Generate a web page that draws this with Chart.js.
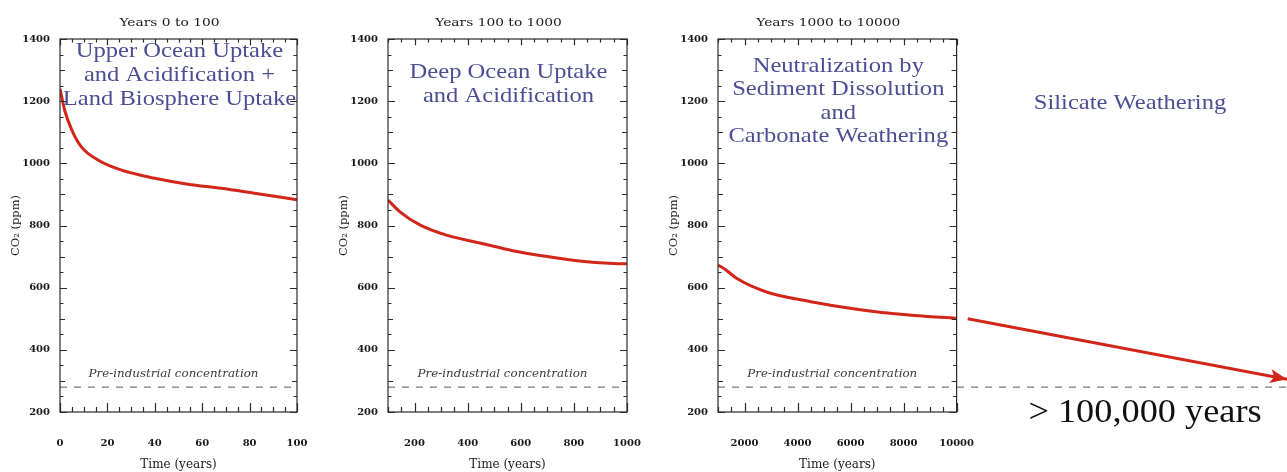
<!DOCTYPE html>
<html>
<head>
<meta charset="utf-8">
<script src="https://cdn.jsdelivr.net/npm/chart.js@4.4.0/dist/chart.umd.min.js"></script>
<style>
  html, body { margin: 0; padding: 0; background: #fff; }
  #wrap { position: relative; width: 1287px; height: 472px; overflow: hidden; }
  .panel { position: absolute; top: 0; height: 472px; }
</style>
</head>
<body>
<div id="wrap">
  <div class="panel" style="left:957px;width:330px"><canvas id="c4"></canvas></div>
  <div class="panel" style="left:0px;width:317px"><canvas id="c1"></canvas></div>
  <div class="panel" style="left:328px;width:319px"><canvas id="c2"></canvas></div>
  <div class="panel" style="left:658px;width:319px"><canvas id="c3"></canvas></div>
</div>
<script>
// values (ppm)
const years1 = [0, 2, 5, 9, 16, 26, 40, 54, 68, 82, 100];
const co2_1 = [1240, 1170, 1107, 1053, 1011, 978, 952, 933, 920, 904, 883];
const years2 = [100, 145, 220, 320, 450, 570, 700, 820, 950, 1000];
const co2_2 = [882, 844, 802, 769, 743, 719, 700, 686, 678, 677];
const years3 = [1000, 1300, 1700, 2800, 4500, 6300, 8200, 10000];
const co2_3 = [673, 657, 630, 587, 555, 530, 512, 501];
const arrowYears = [10000, 100000];
const arrowCO2 = [500, 305];
const preIndustrial = 280;

const yTicks = [200, 400, 600, 800, 1000, 1200, 1400];
const xTicks1 = [0, 20, 40, 60, 80, 100];
const xTicks2 = [200, 400, 600, 800, 1000];
const xTicks3 = [2000, 4000, 6000, 8000, 10000];
const titles = ['Years 0 to 100', 'Years 100 to 1000', 'Years 1000 to 10000'];

const RED = '#d3261b';
const BLUE = '#4b4e93';
const SERIF = 'DejaVu Serif';

// text squeezed/stretched horizontally like the scanned figure
function wideText(ctx, text, x, y, sx) {
  ctx.save();
  ctx.translate(x, y);
  ctx.scale(sx, 1);
  ctx.fillText(text, 0, 0);
  ctx.restore();
}

// box around the plot with inward minor/major ticks, plus the texts
const framePlugin = {
  id: 'frame',
  afterDraw(chart, args, o) {
    if (!o.xStep) return;
    const { ctx, chartArea: a, scales: { x, y } } = chart;
    ctx.save();
    ctx.strokeStyle = '#2b2b2b';
    ctx.lineWidth = 1.2;
    ctx.strokeRect(a.left, a.top, a.right - a.left, a.bottom - a.top);
    ctx.beginPath();
    for (let v = Math.ceil(x.min / o.xStep) * o.xStep; v <= x.max; v += o.xStep) {
      const px = Math.round(x.getPixelForValue(v)) + 0.5;
      const len = v % o.xMajor === 0 ? 9 : 5;
      ctx.moveTo(px, a.bottom); ctx.lineTo(px, a.bottom - len);
      ctx.moveTo(px, a.top); ctx.lineTo(px, a.top + len * 0.7);
    }
    for (let v = y.min; v <= y.max; v += 50) {
      const py = Math.round(y.getPixelForValue(v)) + 0.5;
      const len = v % 200 === 0 ? 7 : (v % 100 === 0 ? 5 : 3.5);
      ctx.moveTo(a.left, py); ctx.lineTo(a.left + len, py);
      ctx.moveTo(a.right, py); ctx.lineTo(a.right - len, py);
    }
    ctx.stroke();

    const cx = (a.left + a.right) / 2;
    ctx.textAlign = 'center';
    ctx.textBaseline = 'middle';
    ctx.fillStyle = '#1a1a1a';
    ctx.font = '11.5px "' + SERIF + '"';
    wideText(ctx, o.title, cx - 9, 23, 1.2);

    ctx.fillStyle = '#3a3a3a';
    ctx.font = 'italic 10.5px "' + SERIF + '"';
    wideText(ctx, 'Pre-industrial concentration', cx - 5, 374, 1.13);

    ctx.fillStyle = BLUE;
    ctx.font = '21px "Liberation Serif"';
    o.lines.forEach((t, i) => wideText(ctx, t, cx + 1, a.top + o.lineTop + i * o.lineGap, 1.17));
    ctx.restore();
  }
};

// arrow head at the end of the long-term line, and the free texts
const arrowPlugin = {
  id: 'arrowHead',
  afterDatasetsDraw(chart, args, o) {
    if (!o.on) return;
    const pts = chart.getDatasetMeta(1).data;
    const p1 = pts[pts.length - 2], p2 = pts[pts.length - 1];
    const ang = Math.atan2(p2.y - p1.y, p2.x - p1.x);
    const { ctx } = chart;
    ctx.save();
    ctx.fillStyle = RED;
    ctx.translate(p2.x, p2.y);
    ctx.rotate(ang);
    ctx.beginPath();
    ctx.moveTo(0, 0);
    ctx.lineTo(-17, -7);
    ctx.lineTo(-13, 0);
    ctx.lineTo(-17, 7);
    ctx.closePath();
    ctx.fill();
    ctx.restore();

    ctx.save();
    ctx.textAlign = 'center';
    ctx.textBaseline = 'middle';
    ctx.fillStyle = BLUE;
    ctx.font = '21px "Liberation Serif"';
    wideText(ctx, 'Silicate Weathering', 173, 103, 1.17);
    ctx.fillStyle = '#111';
    ctx.font = '33px "Liberation Serif"';
    wideText(ctx, '> 100,000 years', 188, 413, 1.1);
    ctx.restore();
  }
};

function panel(id, years, co2, xMin, xMax, xTicks, frame) {
  return new Chart(document.getElementById(id), {
    type: 'line',
    data: {
      datasets: [{
        data: [{ x: xMin, y: preIndustrial }, { x: xMax, y: preIndustrial }],
        borderColor: '#8f8f8f',
        borderWidth: 1.5,
        borderDash: [7, 7],
        pointRadius: 0
      }, {
        data: years.map((t, i) => ({ x: t, y: co2[i] })),
        borderColor: RED,
        borderWidth: 3,
        pointRadius: 0,
        cubicInterpolationMode: 'monotone'
      }]
    },
    options: {
      responsive: true,
      maintainAspectRatio: false,
      animation: false,
      layout: { padding: { top: 39, right: 20, left: 0, bottom: 0 } },
      plugins: { legend: { display: false }, tooltip: { enabled: false }, frame: frame },
      scales: {
        x: {
          type: 'linear', min: xMin, max: xMax,
          afterBuildTicks: s => { s.ticks = xTicks.map(v => ({ value: v })); },
          afterFit: s => { s.height = 60; },
          grid: { drawOnChartArea: false, drawTicks: true, tickLength: 22, tickColor: 'rgba(0,0,0,0)' },
          border: { display: false },
          ticks: { padding: 3, color: '#1a1a1a', callback: v => String(v),
                   font: { family: SERIF, size: 10, weight: 'bold' } },
          title: { display: true, text: 'Time (years)', color: '#1a1a1a', padding: { top: 0, bottom: 0 },
                   font: { family: SERIF, size: 12 } }
        },
        y: {
          type: 'linear', min: 200, max: 1400,
          afterBuildTicks: s => { s.ticks = yTicks.map(v => ({ value: v })); },
          afterFit: s => { s.width = 60; },
          grid: { display: false, drawTicks: false },
          border: { display: false },
          ticks: { padding: 10, color: '#1a1a1a', callback: v => String(v),
                   font: { family: SERIF, size: 10, weight: 'bold' } },
          title: { display: true, text: 'CO\u2082 (ppm)', color: '#1a1a1a', padding: { top: 9, bottom: 0 },
                   font: { family: SERIF, size: 11.5 } }
        }
      }
    },
    plugins: [framePlugin]
  });
}

panel('c1', years1, co2_1, 0, 100, xTicks1, {
  title: titles[0], xStep: 5, xMajor: 20, lineTop: 12, lineGap: 24,
  lines: ['Upper Ocean Uptake', 'and Acidification +', 'Land Biosphere Uptake']
});
panel('c2', years2, co2_2, 100, 1000, xTicks2, {
  title: titles[1], xStep: 50, xMajor: 200, lineTop: 33, lineGap: 24,
  lines: ['Deep Ocean Uptake', 'and Acidification']
});
panel('c3', years3, co2_3, 1000, 10000, xTicks3, {
  title: titles[2], xStep: 500, xMajor: 2000, lineTop: 27, lineGap: 23.5,
  lines: ['Neutralization by', 'Sediment Dissolution', 'and', 'Carbonate Weathering']
});

// long-term tail beyond 10000 years
new Chart(document.getElementById('c4'), {
  type: 'line',
  data: {
    datasets: [{
      data: [{ x: 7000, y: preIndustrial }, { x: 100000, y: preIndustrial }],
      borderColor: '#8f8f8f',
      borderWidth: 1.5,
      borderDash: [7, 7],
      pointRadius: 0
    }, {
      data: arrowYears.map((t, i) => ({ x: t, y: arrowCO2[i] })),
      borderColor: RED,
      borderWidth: 3,
      pointRadius: 0
    }]
  },
  options: {
    responsive: true,
    maintainAspectRatio: false,
    animation: false,
    clip: false,
    layout: { padding: { top: 39, right: 0, left: 0, bottom: 60 } },
    plugins: { legend: { display: false }, tooltip: { enabled: false }, arrowHead: { on: true } },
    scales: {
      x: { type: 'linear', display: false, min: 7000, max: 100000 },
      y: { type: 'linear', display: false, min: 200, max: 1400 }
    }
  },
  plugins: [arrowPlugin]
});
</script>
</body>
</html>
